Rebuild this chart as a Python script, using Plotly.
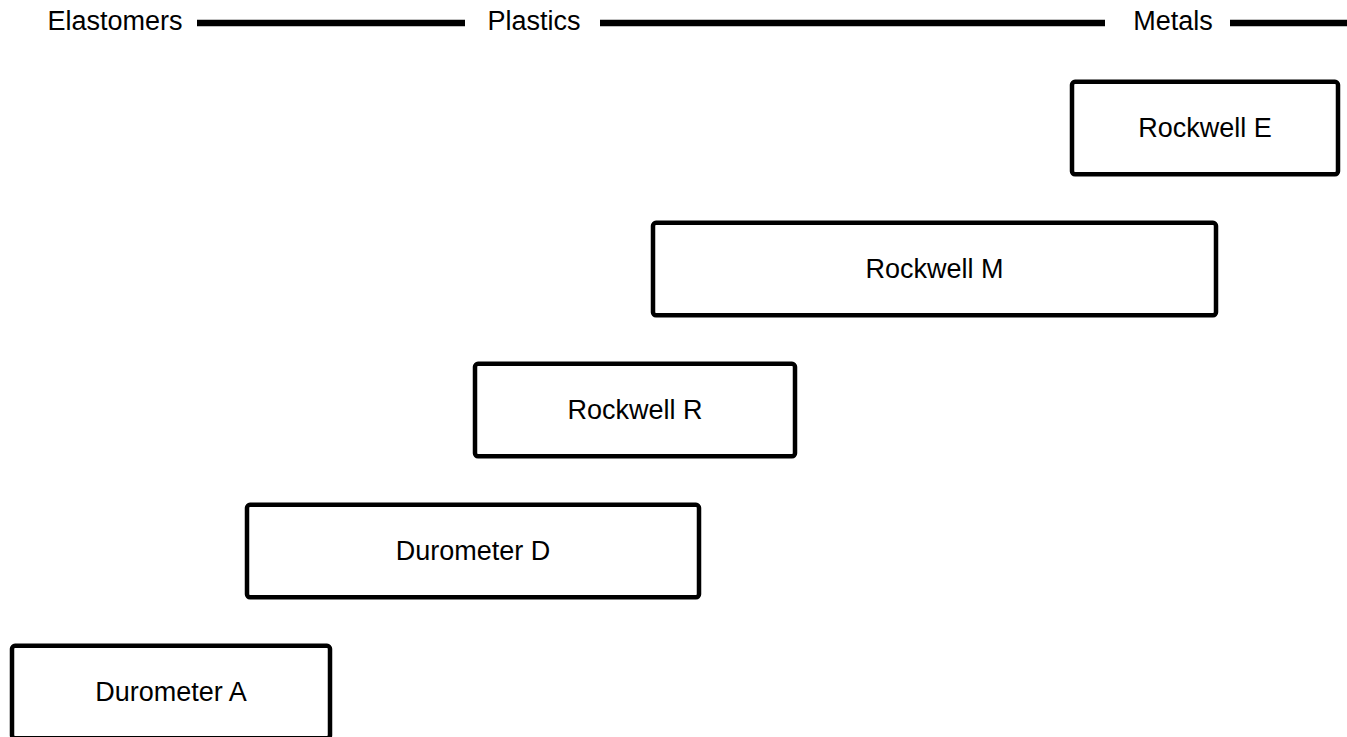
import plotly.graph_objects as go

# hardness scales, with the span each one covers on a common relative axis
scales = ["Durometer A", "Durometer D", "Rockwell R", "Rockwell M", "Rockwell E"]
scale_start = [12, 247, 475, 653, 1072]
scale_end = [330, 699, 795, 1216, 1338]

# material classes along the top of the chart
classes = ["Elastomers", "Plastics", "Metals"]
class_label_x = [115, 534, 1173]
band_start = [197, 600, 1230]
band_end = [465, 1105, 1347]

row = list(range(len(scales)))
header_row = 4.745
font = "Liberation Sans, Arial, Helvetica, sans-serif"

fig = go.Figure()

# boxes for each scale
fig.add_trace(go.Bar(
    orientation="h",
    y=row,
    base=scale_start,
    x=[e - s for s, e in zip(scale_start, scale_end)],
    width=0.655,
    marker=dict(color="white", line=dict(color="black", width=4.5), cornerradius=3),
    text=scales,
    textposition="inside",
    insidetextanchor="middle",
    textangle=0,
    textfont=dict(family=font, size=27, color="black"),
    cliponaxis=False,
    hoverinfo="text",
))

# thick bands between the class labels
for s, e in zip(band_start, band_end):
    fig.add_trace(go.Scatter(
        x=[s, e], y=[header_row, header_row],
        mode="lines",
        line=dict(color="black", width=6.5),
        cliponaxis=False,
        hoverinfo="skip",
    ))

fig.add_trace(go.Scatter(
    x=class_label_x,
    y=[header_row] * len(classes),
    mode="text",
    text=classes,
    textposition="middle center",
    textfont=dict(family=font, size=27, color="black"),
    cliponaxis=False,
    hoverinfo="skip",
))

fig.update_layout(
    width=1347,
    height=737,
    margin=dict(l=0, r=0, t=0, b=0),
    paper_bgcolor="white",
    plot_bgcolor="white",
    showlegend=False,
    xaxis=dict(range=[0, 1347], visible=False, fixedrange=True),
    yaxis=dict(range=[-0.319, 4.908], visible=False, fixedrange=True),
)

# drop the default page margin so the figure sits flush with the window
fig.write_html(
    "out.html",
    config={"displayModeBar": False},
    post_script="document.body.style.margin='0';document.body.style.overflow='hidden';",
)
